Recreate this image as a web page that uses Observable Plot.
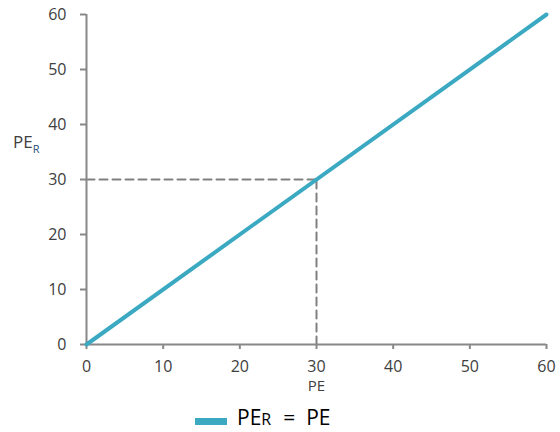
<!DOCTYPE html>
<html><head><meta charset="utf-8">
<script src="https://cdn.jsdelivr.net/npm/d3@7"></script>
<script src="https://cdn.jsdelivr.net/npm/@observablehq/plot@0.6"></script>
<style>
body{margin:0;background:#fff;font-family:"Open Sans",sans-serif;}
#chart svg{display:block;}
#chart g[aria-label="x-axis tick label"] text,
#chart g[aria-label="y-axis tick label"] text{font-size:16px !important;font-family:"Open Sans",sans-serif;}
#legend{position:relative;width:560px;height:32px;font-size:21px;color:#000;}
#legend .sw{position:absolute;left:195px;top:18px;width:32px;height:7px;background:#3BA9C2;}
#legend .tx{position:absolute;left:237px;top:3px;white-space:nowrap;line-height:1.36;}
#legend .sm{font-size:16px;}
#legend .eq{margin:0 11px 0 12px;}
</style></head><body>
<div id="chart"></div>
<div id="legend"><span class="sw"></span><span class="tx">PE<span class="sm">R</span><span class="eq">=</span>PE</span></div>
<script>
const peValues = [0, 60];
const perValues = [0, 60];
const xTicks = [0, 10, 20, 30, 40, 50, 60];
const yTicks = [0, 10, 20, 30, 40, 50, 60];
const refPE = [0, 30];
const refPER = [30, 30];
const vPE = [30, 30];
const vPER = [0, 30];
const xTitle = ["PE"];

const line = peValues.map((x, i) => ({x, y: perValues[i]}));
const h = refPE.map((x, i) => ({x, y: refPER[i]}));
const v = vPE.map((x, i) => ({x, y: vPER[i]}));

const chart = Plot.plot({
  width: 560, height: 400,
  marginLeft: 86, marginRight: 14, marginTop: 14, marginBottom: 56,
  style: {fontFamily: "Open Sans, sans-serif", fontSize: "16px", color: "#404040", background: "#fff"},
  x: {domain: [0, 60], ticks: xTicks, label: null},
  y: {domain: [0, 60], ticks: yTicks, label: null},
  marks: [
    Plot.line(h, {x: "x", y: "y", stroke: "#808080", strokeWidth: 2, strokeDasharray: "8,5"}),
    Plot.line(v, {x: "x", y: "y", stroke: "#808080", strokeWidth: 2, strokeDasharray: "8,5"}),
    Plot.axisX({ticks: xTicks, tickSize: 5, tickPadding: 11, fontSize: 16, stroke: "#888", strokeWidth: 2, fill: "#404040", label: null}),
    Plot.axisY({ticks: yTicks, tickSize: 6, tickPadding: 14, fontSize: 16, stroke: "#888", strokeWidth: 2, fill: "#404040", label: null}),
    Plot.ruleX([0], {stroke: "#888", strokeWidth: 2}),
    Plot.ruleY([0], {stroke: "#888", strokeWidth: 2}),
    Plot.line(line, {x: "x", y: "y", stroke: "#3BA9C2", strokeWidth: 4, strokeLinecap: "round"}),
    Plot.text(xTitle, {frameAnchor: "bottom", lineAnchor: "middle", dy: 42, fontSize: 15, fill: "#404040"})
  ]
});
document.getElementById("chart").appendChild(chart);
const svg = d3.select(chart);
svg.selectAll("text").filter(function(){ return this.textContent === "PE"; })
  .style("font-size", "15px").style("font-family", "Open Sans, sans-serif");
const t = svg.append("text").attr("x", 13).attr("y", 148).attr("fill", "#404040")
  .attr("text-anchor", "start")
  .attr("font-size", 17).attr("font-family", "Open Sans, sans-serif");
t.append("tspan").text("PE");
t.append("tspan").attr("dy", 5).attr("font-size", 11).attr("fill", "#1f4e79").text("R");
</script>
</body></html>
